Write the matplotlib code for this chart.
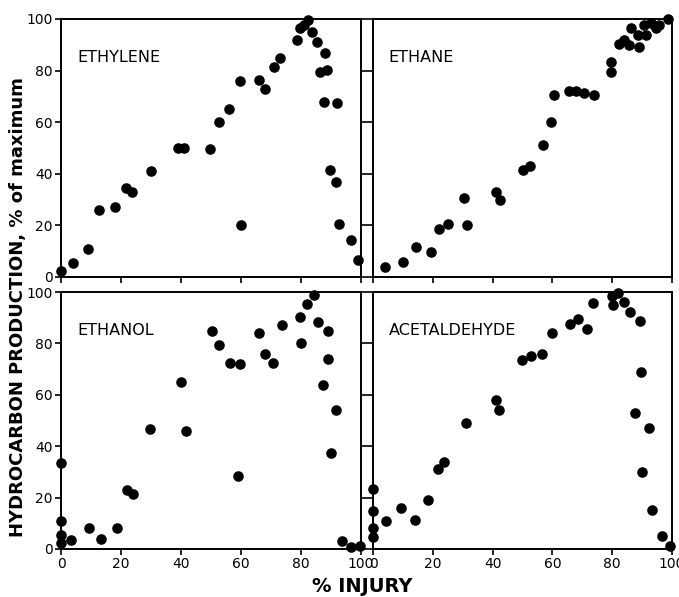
import matplotlib
matplotlib.use("Agg")
import matplotlib.pyplot as plt

# ---- data (% injury, % of maximum) ----
ethylene_x = [0, 4, 9, 12.5, 18, 21.5, 23.5, 30, 39, 41, 49.5, 52.5, 56, 59.5, 60,
              66, 68, 71, 73, 78.5, 79.5, 81, 82.2, 83.8, 85.2, 88, 86.3, 88.8,
              87.8, 92, 89.7, 91.5, 92.5, 96.5, 99]
ethylene_y = [2.5, 5.5, 11, 26, 27, 34.5, 33, 41, 50, 50, 49.5, 60, 65, 76, 20,
              76.5, 73, 81.5, 85, 92, 96.5, 97.7, 99.6, 95, 91, 87, 79.5, 80.2,
              68, 67.3, 41.5, 37, 20.5, 14.5, 6.5]

ethane_x = [4, 10, 14.5, 19.5, 22, 25, 30.5, 31.5, 41, 42.5, 50, 52.5, 57, 59.5,
            60.5, 65.5, 68, 70.5, 74, 79.5, 79.5, 82.3, 84, 85.7, 89, 86.3, 88.5,
            91.3, 90.8, 93, 94.7, 95.8, 98.5]
ethane_y = [4, 6, 11.5, 9.5, 18.5, 20.5, 30.5, 20, 33, 30, 41.5, 43, 51, 60,
            70.5, 72, 72, 71.5, 70.5, 79.5, 83.5, 90.5, 92, 90, 89.3, 96.4, 93.8,
            93.8, 97.7, 98.3, 96.4, 97.7, 100]

ethanol_x = [0, 0, 0, 0, 3.3, 9.4, 13.3, 18.6, 22, 24, 29.7, 40, 41.5, 50.3, 52.8,
             56.3, 59.8, 59, 66, 68, 70.8, 73.6, 79.7, 80, 82, 84.2, 85.8, 88.9,
             88.9, 87.4, 91.7, 90, 93.7, 96.7, 99.7]
ethanol_y = [33.5, 11, 5.3, 2.3, 3.6, 8, 4, 8, 23, 21.5, 46.5, 65, 46, 85, 79.5,
             72.2, 72, 28.5, 84, 76, 72.5, 87.3, 90.3, 80.2, 95.5, 98.7, 88.5,
             85, 74, 64, 54, 37.5, 3.2, 0.6, 1]

acetaldehyde_x = [0, 0, 0, 0, 4.4, 9.4, 14, 18.5, 21.7, 23.8, 31, 41.3, 42.2, 49.8,
                  53, 56.4, 60, 66, 68.5, 71.6, 73.7, 80, 82, 80.4, 84, 86, 89.4,
                  89.5, 87.7, 92.2, 90, 93.4, 96.6, 99.2]
acetaldehyde_y = [23.5, 14.7, 8.2, 4.8, 11, 15.8, 11.3, 19, 31, 34, 49, 58, 54,
                  73.5, 75, 76, 84, 87.7, 89.6, 85.5, 95.8, 98.4, 99.6, 94.8, 96,
                  92.2, 88.7, 69, 53, 47, 30, 15.3, 5, 1]

panels = [
    ("ETHYLENE", ethylene_x, ethylene_y),
    ("ETHANE", ethane_x, ethane_y),
    ("ETHANOL", ethanol_x, ethanol_y),
    ("ACETALDEHYDE", acetaldehyde_x, acetaldehyde_y),
]
ticks = [0, 20, 40, 60, 80, 100]

W, H = 679, 597
fig = plt.figure(figsize=(W / 100, H / 100), dpi=100)
fig.patch.set_facecolor("white")

# pixel boxes of the four panels: left, top, right, bottom
boxes = [(61, 19, 361, 277), (373, 19, 672, 277),
         (61, 292, 361, 549), (373, 292, 672, 549)]

for i, ((name, xs, ys), (l, t, r, b)) in enumerate(zip(panels, boxes)):
    ax = fig.add_axes([l / W, 1 - b / H, (r - l) / W, (b - t) / H])
    ax.plot(xs, ys, "o", color="black", ms=6.6, mec="black", clip_on=False, zorder=3)
    ax.set_xlim(0, 100)
    ax.set_ylim(0, 100)
    ax.set_xticks(ticks)
    ax.set_yticks(ticks)
    for sp in ax.spines.values():
        sp.set_linewidth(1.4)
    left_col = i % 2 == 0
    bottom_row = i >= 2
    ax.tick_params(direction="out", length=4, width=1.2, labelsize=10, pad=2,
                   left=True, right=left_col, top=False, bottom=True,
                   labelleft=left_col, labelbottom=bottom_row)
    ax.text(0.053, 0.852, name, transform=ax.transAxes, fontsize=11.5,
            ha="left", va="center")

fig.text(18 / W, 1 - 307 / H, "HYDROCARBON PRODUCTION, % of maximum",
         rotation=90, ha="center", va="center", fontsize=13, fontweight="bold")
fig.text(362 / W, 1 - 586 / H, "% INJURY", ha="center", va="center",
         fontsize=14, fontweight="bold")

fig.savefig("out.png", dpi=100, facecolor="white")
